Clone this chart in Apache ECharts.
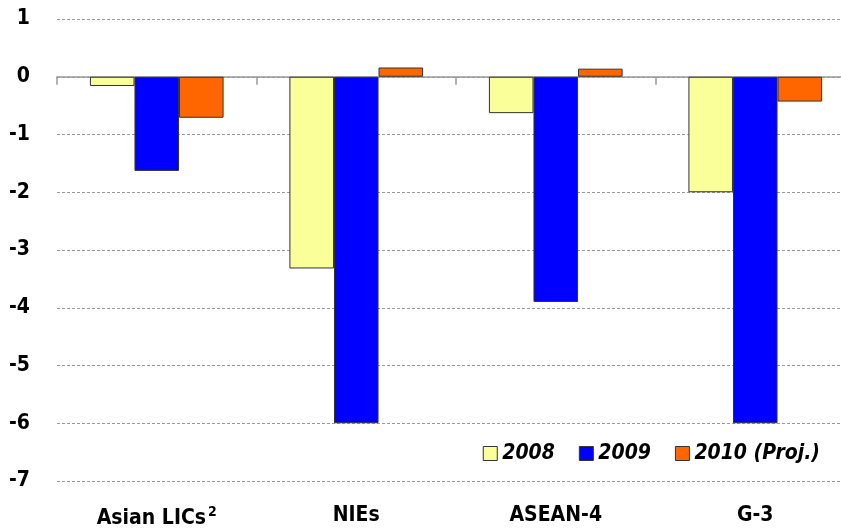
<!DOCTYPE html>
<html><head><meta charset="utf-8">
<script src="https://cdn.jsdelivr.net/npm/echarts@6/dist/echarts.min.js"></script>
<style>html,body{margin:0;padding:0;background:#fff}#c{width:841px;height:529px}</style>
</head><body><div id="c"></div>
<script>
var categories = ['Asian LICs', 'NIEs', 'ASEAN-4', 'G-3'];
var seriesNames = ['2008', '2009', '2010 (Proj.)'];
var v2008 = [-0.16, -3.32, -0.63, -2.0];
var v2009 = [-1.63, -6.0, -3.9, -6.0];
var v2010 = [-0.71, 0.16, 0.14, -0.43];
var yTicks = [1, 0, -1, -2, -3, -4, -5, -6, -7];

var FONT = '"DejaVu Sans Condensed", "DejaVu Sans", sans-serif';
var W = 'bold';
var colors = ['#FAFF99', '#0000FF', '#FF6600'];
var chart = echarts.init(document.getElementById('c'), null, {renderer: 'canvas'});
function mk(name, data, i) {
  return {
    name: name, type: 'bar', data: data, xAxisIndex: 0,
    barGap: '0%', barCategoryGap: '33%',
    itemStyle: {color: colors[i], borderColor: '#333', borderWidth: 1}
  };
}
chart.setOption({
  animation: false,
  grid: {left: 57, width: 798, top: 19, bottom: 48, containLabel: false, outerBoundsMode: 'none'},
  legend: {
    right: 16, top: 438, itemWidth: 14, itemHeight: 14, itemGap: 24,
    icon: 'rect',
    textStyle: {fontFamily: FONT, fontSize: 21, fontWeight: W, fontStyle: 'italic', color: '#000'},
    data: seriesNames.map(function (n, i) { return {name: n, itemStyle: {borderColor: '#333', borderWidth: 1}}; })
  },
  xAxis: [{
    type: 'category', data: categories, position: 'bottom',
    axisLine: {show: false, onZero: false}, axisTick: {show: false},
    axisLabel: {
      interval: 0, margin: 24, fontFamily: FONT, fontSize: 21, fontWeight: W, color: '#000',
      formatter: function (v, idx) { return idx === 0 ? v + '{sup|2}' : v; },
      rich: {sup: {fontFamily: FONT, fontSize: 14, fontWeight: W, verticalAlign: 'top', padding: [0, 0, 14, 2], color: '#000'}}
    }
  }, {
    type: 'category', data: categories, position: 'bottom',
    axisLine: {show: true, onZero: true, onZeroAxisIndex: 0, lineStyle: {color: '#999', width: 1.5}},
    axisTick: {show: true, length: 8, inside: false, interval: 0, lineStyle: {color: '#999', width: 1.5}},
    axisLabel: {show: false}
  }],
  yAxis: {
    type: 'value', min: -7, max: 1, interval: 1,
    axisLine: {show: false}, axisTick: {show: false},
    splitLine: {show: true, lineStyle: {color: '#999', type: [3, 2], width: 1}},
    axisLabel: {margin: 27, fontFamily: FONT, fontSize: 21, fontWeight: W, color: '#000'}
  },
  series: [mk(seriesNames[0], v2008, 0), mk(seriesNames[1], v2009, 1), mk(seriesNames[2], v2010, 2)]
});
</script>
</body></html>
